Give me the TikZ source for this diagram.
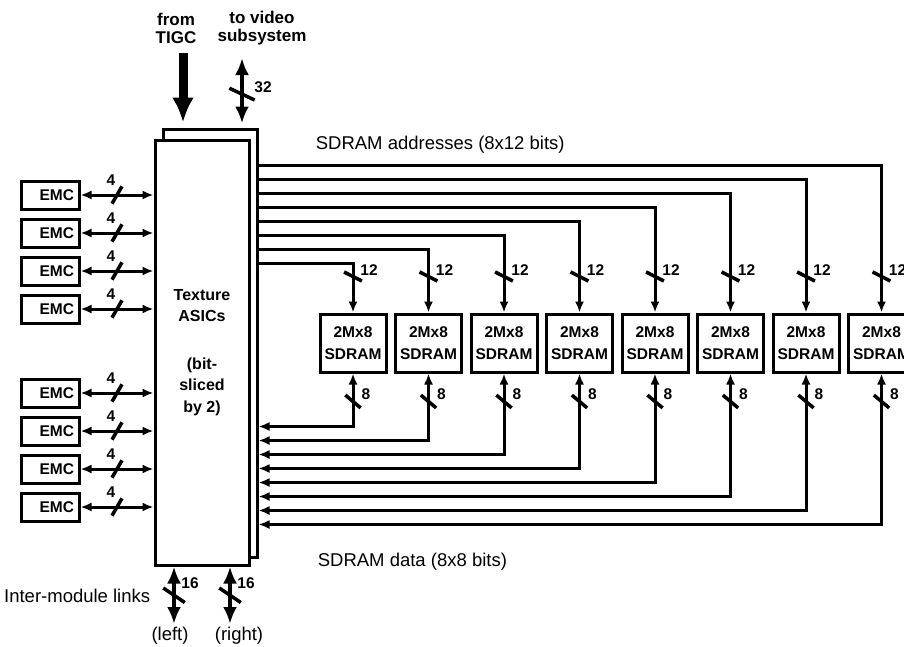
\documentclass[tikz,border=0pt]{standalone}
\usepackage{fontspec}
\setmainfont{Liberation Sans}
\usetikzlibrary{positioning, arrows.meta}

\newcommand{\busbar}[1]{\rule{#1}{3.5pt}}

\begin{document}
\begin{tikzpicture}[x=1pt, y=-1pt, line width=3pt, node distance=7pt,
	font=\fontsize{15.5}{21.5}\selectfont\bfseries,
	>={Latex[length=11pt,width=9pt]},
	asic/.style={draw, fill=white, minimum width=94pt, minimum height=425pt, inner sep=0pt, align=center},
	chip/.style={draw, fill=white, minimum width=66pt, minimum height=58pt, inner sep=0pt, align=center},
	emc/.style={draw, minimum width=58pt, minimum height=28pt, inner sep=0pt, text width=48pt, align=right},
	tick/.style={inner sep=0pt, rotate=#1},
	caption/.style={font=\fontsize{18.5}{21}\selectfont},
	toplabel/.style={align=center, font=\fontsize{17}{18}\selectfont\bfseries},
	bigtip/.style={>={Latex[length=17pt,width=14pt]}, line width=4.5pt}]

	\useasboundingbox (0,0) rectangle (904,646);

	% texture asics, two slices
	\node[asic, minimum height=428pt] (back) at (210,343) {};
	\node[asic, font=\fontsize{16}{21.5}\selectfont\bfseries] (asic) at (202,352.5) {Texture\\ASICs\\[26pt](bit-\\sliced\\by 2)};

	% memory chips
	\node[chip] (s1) at (353,343) {2Mx8\\SDRAM};
	\node[chip, right=6.5pt of s1] (s2) {2Mx8\\SDRAM};
	\node[chip, right=6.5pt of s2] (s3) {2Mx8\\SDRAM};
	\node[chip, right=6.5pt of s3] (s4) {2Mx8\\SDRAM};
	\node[chip, right=6.5pt of s4] (s5) {2Mx8\\SDRAM};
	\node[chip, right=6.5pt of s5] (s6) {2Mx8\\SDRAM};
	\node[chip, right=6.5pt of s6] (s7) {2Mx8\\SDRAM};
	\node[chip, right=6.5pt of s7] (s8) {2Mx8\\SDRAM};

	% EMCs
	\node[emc] (e1) at (50,195) {EMC};
	\node[emc, below=of e1] (e2) {EMC};
	\node[emc, below=of e2] (e3) {EMC};
	\node[emc, below=of e3] (e4) {EMC};
	\node[emc] (e5) at (50,393) {EMC};
	\node[emc, below=of e5] (e6) {EMC};
	\node[emc, below=of e6] (e7) {EMC};
	\node[emc, below=of e7] (e8) {EMC};

	\foreach \i in {1,...,8}
		\draw[<->] (e\i) -- (e\i -| asic.west)
			node[midway, tick=60] {\busbar{20pt}}
			node[midway, above=5pt, xshift=-6pt] {4};

	% address and data buses
	\foreach \i in {1,...,8} {
		\pgfmathsetmacro{\ya}{150-14*\i}
		\pgfmathsetmacro{\yd}{285+14*\i}
		\draw[->] ([yshift=-\ya pt]back.north east) -| (s\i);
		\draw[<->] (s\i) |- ([yshift=-\yd pt]back.north east);
		\node[tick=-27] at ([yshift=36pt]s\i.north) {\busbar{20pt}};
		\node at ([xshift=16pt,yshift=42pt]s\i.north) {12};
		\node[tick=-40] at ([yshift=-28pt]s\i.south) {\busbar{20pt}};
		\node at ([xshift=13pt,yshift=-21pt]s\i.south) {8};
	}

	\node[caption, anchor=west] at (311,145) {SDRAM addresses (8x12 bits)};
	\node[caption, anchor=west] at (313,562) {SDRAM data (8x8 bits)};

	% links to the outside
	\node[toplabel] (tigc) at (176,28) {from\\TIGC};
	\node[toplabel] (video) at (262,28) {to video\\subsystem};
	\coordinate (tin) at (183,53);
	\coordinate (vin) at (242,58);
	\draw[line width=9pt, -{Latex[length=25pt,width=22pt]}, shorten >=5pt] (tin) -- (tin |- back.north);
	\draw[bigtip, <->, shorten >=4pt] (vin) -- (vin |- back.north)
		node[pos=.52, tick=-25] {\busbar{28pt}};
	\node at (263,87) {32};

	\coordinate (lout) at (174,624);
	\coordinate (rout) at (230,624);
	\draw[bigtip, <->] (asic.south -| lout) -- (lout) node[midway, tick=-34] {\busbar{26pt}};
	\draw[bigtip, <->] (asic.south -| rout) -- (rout) node[midway, tick=-34] {\busbar{26pt}};
	\node at (190,583) {16};
	\node at (246,583) {16};
	\node[caption, anchor=east] at (155,596) {Inter-module links};
	\node[caption] at (170,636) {(left)};
	\node[caption] at (239,636) {(right)};

\end{tikzpicture}
\end{document}
